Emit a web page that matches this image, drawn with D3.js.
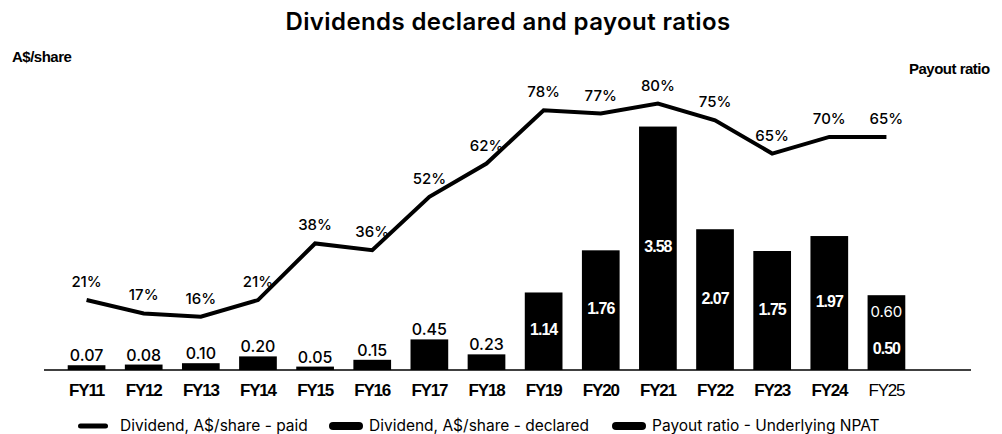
<!DOCTYPE html>
<html>
<head>
<meta charset="utf-8">
<script src="https://cdn.jsdelivr.net/npm/d3@7"></script>
<style>
  body { margin: 0; background: #fff; }
  svg text { font-family: Inter, "Liberation Sans", Arial, sans-serif; fill: #000; }
</style>
</head>
<body>
<svg id="chart"></svg>
<script>
const width = 1002;
const height = 434;

// chart data
const years = ["FY11", "FY12", "FY13", "FY14", "FY15", "FY16", "FY17", "FY18",
               "FY19", "FY20", "FY21", "FY22", "FY23", "FY24", "FY25"];
const dividendDeclared = [0.07, 0.08, 0.10, 0.20, 0.05, 0.15, 0.45, 0.23,
                          1.14, 1.76, 3.58, 2.07, 1.75, 1.97, 0.50];
const dividendPaid = [0, 0, 0, 0, 0, 0, 0, 0, 0, 0, 0, 0, 0, 0, 0.60]; // only FY25 split
const payoutRatio = [21, 17, 16, 21, 38, 36, 52, 62, 78, 77, 80, 75, 65, 70, 70]; // as drawn
const payoutLabels = ["21%", "17%", "16%", "21%", "38%", "36%", "52%", "62%",
                      "78%", "77%", "80%", "75%", "65%", "70%", "65%"];
const legendItems = ["Dividend, A$/share - paid", "Dividend, A$/share - declared", "Payout ratio - Underlying NPAT"];

const svg = d3.select("#chart")
    .attr("width", width)
    .attr("height", height);

const x = d3.scaleBand()
    .domain(years)
    .range([58, 915])
    .paddingInner(0.34)
    .paddingOuter(0.17);

const y = d3.scaleLinear().domain([0, 4]).range([370, 98]);
const yRatio = d3.scaleLinear().domain([0, 100]).range([370, 37]);

const boldFont = "'Liberation Sans', Arial, sans-serif";

// title + axis captions
svg.append("text")
    .attr("x", 508).attr("y", 30)
    .attr("text-anchor", "middle")
    .style("font-size", "24px")
    .style("font-weight", 600)
    .style("letter-spacing", "0.4px")
    .text("Dividends declared and payout ratios");

svg.append("text")
    .attr("x", 12).attr("y", 62)
    .style("font-family", boldFont)
    .style("font-size", "15px")
    .style("font-weight", "bold")
    .style("letter-spacing", "-0.5px")
    .text("A$/share");

svg.append("text")
    .attr("x", 909).attr("y", 74)
    .style("font-family", boldFont)
    .style("font-size", "15px")
    .style("font-weight", "bold")
    .style("letter-spacing", "-0.5px")
    .text("Payout ratio");

// stacked bars (declared at bottom, paid on top)
const rows = years.map((yr, i) => ({
    year: yr,
    declared: dividendDeclared[i],
    paid: dividendPaid[i],
    total: dividendDeclared[i] + dividendPaid[i]
}));

svg.selectAll(".bar")
    .data(rows)
    .join("rect")
    .attr("class", "bar")
    .attr("x", d => x(d.year))
    .attr("width", x.bandwidth())
    .attr("y", d => y(d.total))
    .attr("height", d => y(0) - y(d.total))
    .attr("fill", "#000");

// x axis baseline
svg.append("line")
    .attr("x1", 44).attr("x2", 971)
    .attr("y1", y(0)).attr("y2", y(0))
    .attr("stroke", "#000")
    .attr("stroke-width", 1.5);

// bar value labels
rows.forEach(d => {
    const cx = x(d.year) + x.bandwidth() / 2;
    if (d.paid > 0) {
        svg.append("text")
            .attr("x", cx).attr("y", (y(d.total) + y(d.declared)) / 2 + 1)
            .attr("text-anchor", "middle")
            .style("fill", "#fff")
            .style("font-size", "15px")
            .text(d3.format(".2f")(d.paid));
        svg.append("text")
            .attr("x", cx).attr("y", (y(d.declared) + y(0)) / 2 + 1)
            .attr("text-anchor", "middle")
            .style("fill", "#fff")
            .style("font-family", boldFont)
            .style("font-size", "16px")
            .style("font-weight", "bold")
            .style("letter-spacing", "-1px")
            .text(d3.format(".2f")(d.declared));
    } else if (d.total >= 1) {
        svg.append("text")
            .attr("x", cx).attr("y", (y(d.total) + y(0)) / 2 + 4)
            .attr("text-anchor", "middle")
            .style("fill", "#fff")
            .style("font-family", boldFont)
            .style("font-size", "16px")
            .style("font-weight", "bold")
            .style("letter-spacing", "-1px")
            .text(d3.format(".2f")(d.total));
    } else {
        svg.append("text")
            .attr("x", cx).attr("y", y(d.total) - 4)
            .attr("text-anchor", "middle")
            .style("font-size", "16px")
            .style("font-weight", 500)
            .text(d3.format(".2f")(d.total));
    }
});

// x axis labels
svg.selectAll(".xlab")
    .data(years)
    .join("text")
    .attr("class", "xlab")
    .attr("x", d => x(d) + x.bandwidth() / 2)
    .attr("y", 396)
    .attr("text-anchor", "middle")
    .style("font-family", boldFont)
    .style("font-size", "17px")
    .style("font-weight", (d, i) => i === years.length - 1 ? "normal" : "bold")
    .style("letter-spacing", "-1.2px")
    .text(d => d);

// payout ratio line
const line = d3.line()
    .x((d, i) => x(years[i]) + x.bandwidth() / 2)
    .y(d => yRatio(d));

svg.append("path")
    .datum(payoutRatio)
    .attr("d", line)
    .attr("fill", "none")
    .attr("stroke", "#000")
    .attr("stroke-width", 4);

svg.selectAll(".plab")
    .data(payoutRatio)
    .join("text")
    .attr("class", "plab")
    .attr("x", (d, i) => x(years[i]) + x.bandwidth() / 2)
    .attr("y", d => yRatio(d) - 13)
    .attr("text-anchor", "middle")
    .style("font-size", "15px")
    .style("font-weight", 500)
    .text((d, i) => payoutLabels[i]);

// legend
const legendX = [78, 329, 612];
const legend = svg.selectAll(".legend")
    .data(legendItems)
    .join("g")
    .attr("class", "legend")
    .attr("transform", (d, i) => `translate(${legendX[i]}, 426)`);

legend.append("rect")
    .attr("x", 0).attr("y", (d, i) => i === 0 ? -2.5 : -4)
    .attr("width", (d, i) => i === 0 ? 30 : 34)
    .attr("height", (d, i) => i === 0 ? 5 : 8)
    .attr("rx", (d, i) => i === 0 ? 2.5 : 4)
    .attr("fill", "#000");

legend.append("text")
    .attr("x", (d, i) => i === 0 ? 42 : 40)
    .attr("y", 5)
    .style("font-size", "15.5px")
    .text(d => d);
</script>
</body>
</html>
